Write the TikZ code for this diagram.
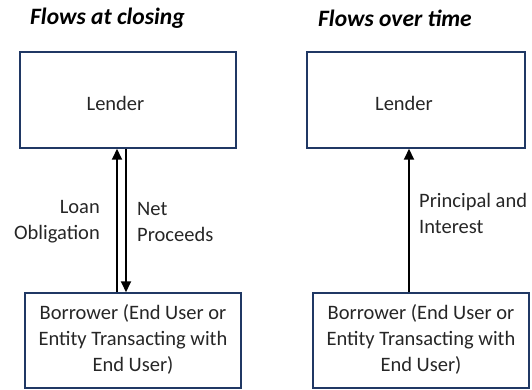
\documentclass[tikz,border=0pt]{standalone}
\usepackage{fontspec}
\setmainfont{Carlito}
\usetikzlibrary{arrows.meta}
\begin{document}
\begin{tikzpicture}[x=1pt,y=-1pt,
  party/.style={draw=navy,line width=1.5pt},
  flow/.style={line width=2pt,-{Triangle[length=11pt,width=10pt]}},
  heading/.style={font=\fontsize{23.5}{26}\selectfont\bfseries\itshape,anchor=west,inner sep=0pt},
  boxtext/.style={font=\fontsize{20.5}{26}\selectfont,align=center,text=black!85},
  lbl/.style={font=\fontsize{20.5}{26}\selectfont,inner sep=0pt,text=black!85}]
\definecolor{navy}{HTML}{203864}
\useasboundingbox (0,0) rectangle (532,390);

% headings
\node[heading] (h1) at (30,18) {Flows at closing};
\node[heading] (h2) at (318,18) {Flows over time};

% flows at closing
\node[party,minimum width=216pt,minimum height=96pt] (lenderA) at (128,100) {};
\node[boxtext] (lenderAt) at (115.5,103) {Lender};
\node[party,minimum width=216pt,minimum height=95pt] (borrA) at (133,340.5) {};
\node[boxtext] (borrAt) at (133,339) {Borrower (End User or\\Entity Transacting with\\End User)};
\coordinate (a1) at (117,0);
\coordinate (a2) at (126,0);
\draw[flow] (borrA.north -| a1) -- (lenderA.south -| a1);
\draw[flow] (lenderA.south -| a2) -- (borrA.north -| a2);
\node[lbl,align=right,anchor=east] (loanlbl) at (100,222) {Loan\\Obligation};
\node[lbl,align=left,anchor=west] (netlbl) at (137,222) {Net\\Proceeds};

% flows over time
\node[party,minimum width=218pt,minimum height=96pt] (lenderB) at (416,100) {};
\node[boxtext] (lenderBt) at (404,103) {Lender};
\node[party,minimum width=216pt,minimum height=95pt] (borrB) at (421,340.5) {};
\node[boxtext] (borrBt) at (421,339) {Borrower (End User or\\Entity Transacting with\\End User)};
\coordinate (b1) at (409,0);
\draw[flow] (borrB.north -| b1) -- (lenderB.south -| b1);
\node[lbl,align=left,anchor=west] (pilbl) at (419,213) {Principal and\\Interest};
\end{tikzpicture}
\end{document}
